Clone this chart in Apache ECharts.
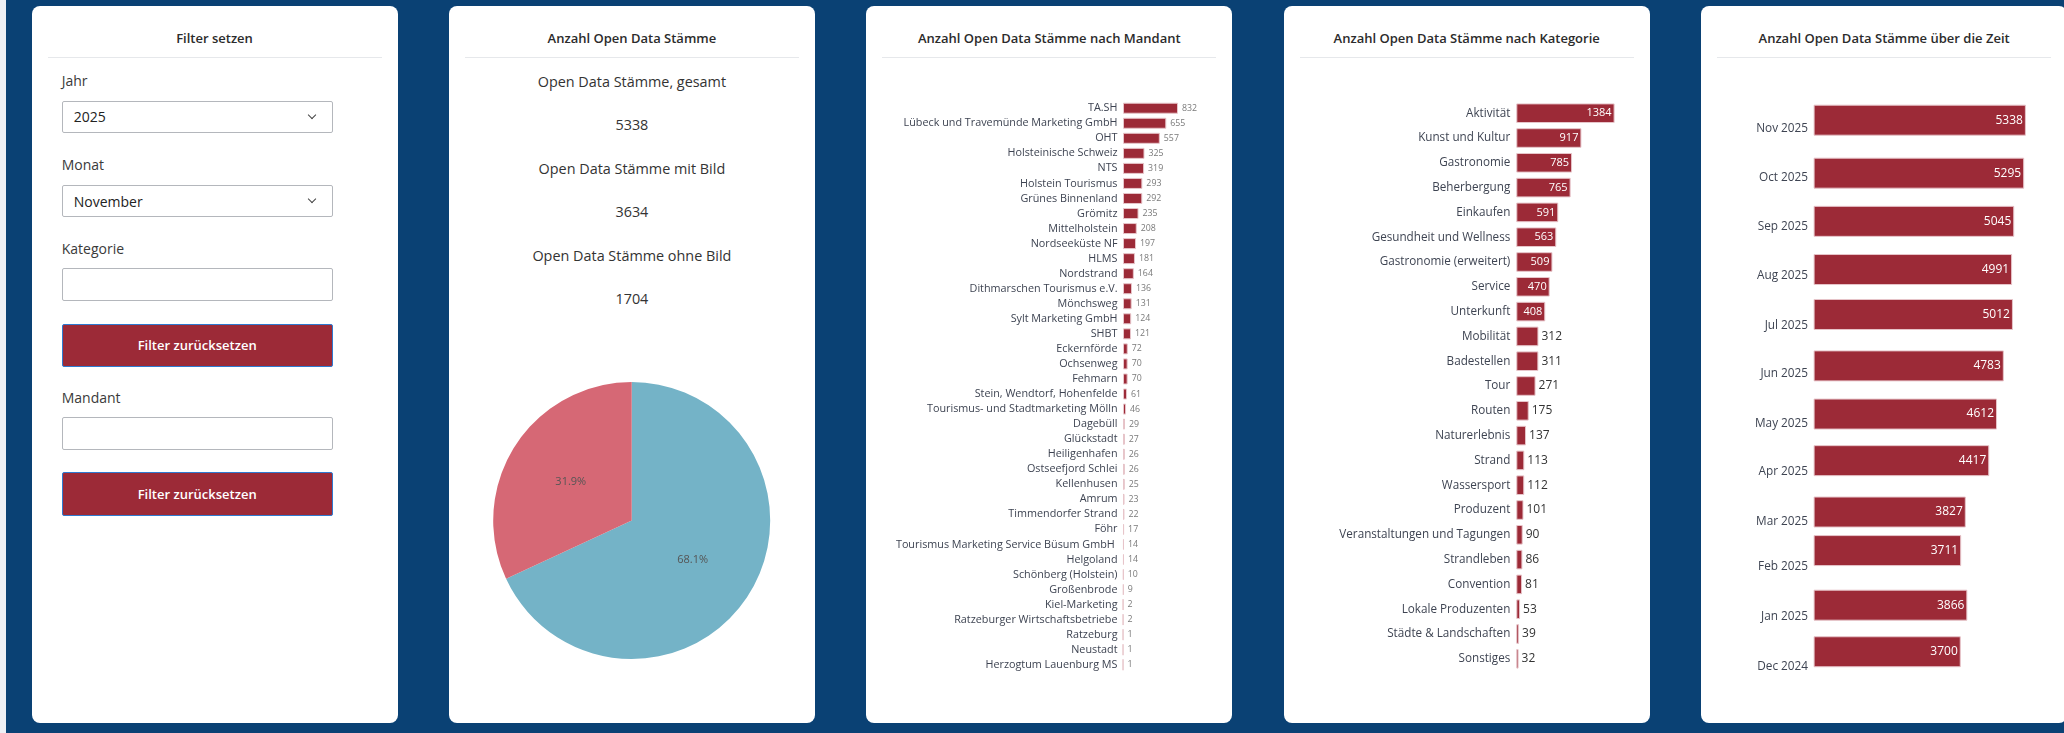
<!DOCTYPE html>
<html lang="de">
<head>
<meta charset="utf-8">
<title>Open Data Stämme</title>
<script src="https://cdn.jsdelivr.net/npm/echarts/dist/echarts.min.js"></script>
<style>
  html, body { margin: 0; padding: 0; width: 2064px; height: 733px; overflow: hidden; background: #eef0f5; }
  body { font-family: "Open Sans", "Noto Sans", sans-serif; color: #333; }
  #bg { position: absolute; left: 6px; top: 0; width: 2058px; height: 733px; background: #0a4174; }
  .panel { position: absolute; top: 5.5px; width: 366px; height: 717px; background: #fff; border-radius: 8px; overflow: hidden; }
  .titel { position: absolute; left: 0; width: 366px; top: 23.5px; line-height: 18px; text-align: center; font-size: 13px; font-weight: 600; color: #2b2b2b; }
  .trenner { position: absolute; left: 16px; right: 16px; top: 51px; height: 1px; background: #e6e8eb; }
  .lbl { position: absolute; left: 30.2px; line-height: 20px; font-size: 14px; color: #3a3a3a; }
  .feld { position: absolute; left: 30.2px; width: 271px; box-sizing: border-box; border: 1px solid #b4b7bc; border-radius: 2px; background: #fff;
          font-size: 14px; color: #222; padding-left: 11px; display: flex; align-items: center; }
  .feld .pfeil { position: absolute; right: 17px; top: 50%; width: 5px; height: 5px; margin-top: -5px; border-right: 1.3px solid #444; border-bottom: 1.3px solid #444; transform: rotate(45deg); }
  .knopf { position: absolute; left: 30.2px; width: 271px; box-sizing: border-box; border: 1px solid #2f7ad0; border-radius: 2px; background: #9c2a37;
           color: #fff; font-size: 13px; font-weight: 600; display: flex; align-items: center; justify-content: center; }
  .kpi { position: absolute; left: 0; width: 366px; text-align: center; line-height: 20px; font-size: 14.4px; color: #333; }
  .chart { position: absolute; left: 0; top: 0; width: 366px; height: 717px; }
</style>
</head>
<body>
<div id="bg"></div>

<div class="panel" id="p0">
  <div class="titel">Filter setzen</div>
  <div class="trenner"></div>
  <div class="lbl" style="top:65.4px">Jahr</div>
  <div class="feld" style="top:95px;height:32.3px">2025<span class="pfeil"></span></div>
  <div class="lbl" style="top:149.5px">Monat</div>
  <div class="feld" style="top:179.2px;height:32.7px">November<span class="pfeil"></span></div>
  <div class="lbl" style="top:233.7px">Kategorie</div>
  <div class="feld" style="top:262.4px;height:33.6px"></div>
  <div class="knopf" style="top:318px;height:43px">Filter zurücksetzen</div>
  <div class="lbl" style="top:382.8px">Mandant</div>
  <div class="feld" style="top:411.5px;height:33.2px"></div>
  <div class="knopf" style="top:466.7px;height:43.5px">Filter zurücksetzen</div>
</div>

<div class="panel" id="p1">
  <div class="titel">Anzahl Open Data Stämme</div>
  <div class="trenner"></div>
  <div id="kpis"></div>
  <div class="chart" id="pie"></div>
</div>

<div class="panel" id="p2">
  <div class="titel">Anzahl Open Data Stämme nach Mandant</div>
  <div class="trenner"></div>
  <div class="chart" id="mandant"></div>
</div>

<div class="panel" id="p3">
  <div class="titel">Anzahl Open Data Stämme nach Kategorie</div>
  <div class="trenner"></div>
  <div class="chart" id="kategorie"></div>
</div>

<div class="panel" id="p4">
  <div class="titel">Anzahl Open Data Stämme über die Zeit</div>
  <div class="trenner"></div>
  <div class="chart" id="zeit"></div>
</div>

<script>
// ---- Daten ----
var kpiLabels = ['Open Data Stämme, gesamt', 'Open Data Stämme mit Bild', 'Open Data Stämme ohne Bild'];
var kpiValues = [5338, 3634, 1704];

var mandantNames = ['TA.SH', 'Lübeck und Travemünde Marketing GmbH', 'OHT', 'Holsteinische Schweiz', 'NTS',
    'Holstein Tourismus', 'Grünes Binnenland', 'Grömitz', 'Mittelholstein', 'Nordseeküste NF', 'HLMS',
    'Nordstrand', 'Dithmarschen Tourismus e.V.', 'Mönchsweg', 'Sylt Marketing GmbH', 'SHBT', 'Eckernförde',
    'Ochsenweg', 'Fehmarn', 'Stein, Wendtorf, Hohenfelde', 'Tourismus- und Stadtmarketing Mölln', 'Dagebüll',
    'Glückstadt', 'Heiligenhafen', 'Ostseefjord Schlei', 'Kellenhusen', 'Amrum', 'Timmendorfer Strand', 'Föhr',
    'Tourismus Marketing Service Büsum GmbH ', 'Helgoland', 'Schönberg (Holstein)', 'Großenbrode',
    'Kiel-Marketing', 'Ratzeburger Wirtschaftsbetriebe', 'Ratzeburg', 'Neustadt', 'Herzogtum Lauenburg MS'];
var mandantValues = [832, 655, 557, 325, 319, 293, 292, 235, 208, 197, 181, 164, 136, 131, 124, 121, 72,
    70, 70, 61, 46, 29, 27, 26, 26, 25, 23, 22, 17, 14, 14, 10, 9, 2, 2, 1, 1, 1];

var kategorieNames = ['Aktivität', 'Kunst und Kultur', 'Gastronomie', 'Beherbergung', 'Einkaufen',
    'Gesundheit und Wellness', 'Gastronomie (erweitert)', 'Service', 'Unterkunft', 'Mobilität', 'Badestellen',
    'Tour', 'Routen', 'Naturerlebnis', 'Strand', 'Wassersport', 'Produzent', 'Veranstaltungen und Tagungen',
    'Strandleben', 'Convention', 'Lokale Produzenten', 'Städte & Landschaften', 'Sonstiges'];
var kategorieValues = [1384, 917, 785, 765, 591, 563, 509, 470, 408, 312, 311, 271, 175, 137, 113, 112, 101,
    90, 86, 81, 53, 39, 32];

// Stichtage der monatlichen Zählung
var zeitDates = ['2025-11-06', '2025-10-04', '2025-09-04', '2025-08-05', '2025-07-08', '2025-06-06',
    '2025-05-07', '2025-04-08', '2025-03-07', '2025-02-11', '2025-01-08', '2024-12-10'];
var zeitValues = [5338, 5295, 5045, 4991, 5012, 4783, 4612, 4417, 3827, 3711, 3866, 3700];

var monate = ['Jan', 'Feb', 'Mar', 'Apr', 'May', 'Jun', 'Jul', 'Aug', 'Sep', 'Oct', 'Nov', 'Dec'];

// ---- Farben ----
var barRot = '#9c2a37';
var barRand = '#e7c5ca';
var textFarbe = '#3e4452';

// KPI Texte
var kpiBox = document.getElementById('kpis');
for (var i = 0; i < kpiLabels.length; i++) {
    var t = document.createElement('div');
    t.className = 'kpi';
    t.style.top = (66.2 + i * 86.9) + 'px';
    t.textContent = kpiLabels[i];
    kpiBox.appendChild(t);
    var z = document.createElement('div');
    z.className = 'kpi';
    z.style.top = (109.6 + i * 86.9) + 'px';
    z.textContent = kpiValues[i];
    kpiBox.appendChild(z);
}

// Kreisdiagramm mit/ohne Bild
var pieChart = echarts.init(document.getElementById('pie'), null, { renderer: 'canvas' });
pieChart.setOption({
    animation: false,
    series: [{
        type: 'pie',
        center: [182.7, 514.5],
        radius: 138.5,
        startAngle: 90,
        percentPrecision: 1,
        label: { position: 'inside', formatter: '{d}%', color: '#555', fontSize: 11, fontFamily: 'Open Sans' },
        labelLine: { show: false },
        itemStyle: { borderWidth: 0 },
        data: [
            { name: 'mit Bild', value: kpiValues[1], itemStyle: { color: '#74b3c7' } },
            { name: 'ohne Bild', value: kpiValues[2], itemStyle: { color: '#d66875' } }
        ]
    }]
});

// Mandanten
var mandantChart = echarts.init(document.getElementById('mandant'));
mandantChart.setOption({
    animation: false,
    grid: { left: 257, top: 94.7, width: 55, height: 571.6 },
    xAxis: { type: 'value', min: 0, max: 'dataMax', show: false },
    yAxis: {
        type: 'category', inverse: true, data: mandantNames,
        axisLine: { show: false }, axisTick: { show: false },
        axisLabel: { interval: 0, margin: 5.5, fontSize: 10.8, color: textFarbe, fontFamily: 'Open Sans' }
    },
    series: [{
        type: 'bar', data: mandantValues, barWidth: 11,
        itemStyle: { color: barRot, borderColor: barRand, borderWidth: 1 },
        label: { show: true, position: 'right', distance: 4, fontSize: 8.8, color: '#7a7a7a', fontFamily: 'Open Sans' }
    }]
});

// Kategorien - große Balken mit Wert innen, kleine außen
var kategorieChart = echarts.init(document.getElementById('kategorie'));
kategorieChart.setOption({
    animation: false,
    grid: { left: 232.3, top: 94.8, width: 98.3, height: 570.4 },
    xAxis: { type: 'value', min: 0, max: 'dataMax', show: false },
    yAxis: {
        type: 'category', inverse: true, data: kategorieNames,
        axisLine: { show: false }, axisTick: { show: false },
        axisLabel: { interval: 0, margin: 6, fontSize: 11.7, color: textFarbe, fontFamily: 'Open Sans' }
    },
    series: [{
        type: 'bar', barWidth: 19.6,
        itemStyle: { color: barRot, borderColor: barRand, borderWidth: 1 },
        data: kategorieValues.map(function (v) {
            return {
                value: v,
                label: v >= 400
                    ? { position: 'insideRight', distance: 3, color: '#fff', fontSize: 11 }
                    : { position: 'right', distance: 3, color: '#333', fontSize: 12 }
            };
        }),
        label: { show: true, fontFamily: 'Open Sans', textBorderWidth: 0 }
    }]
});

// Zeitverlauf
// echarts 6 erweitert die Zeitachse um eine halbe Balkenbreite je Seite -> vorher abziehen
var zeitHoehe = 572, zeitBalken = 31;
var achseVon = new Date('2024-11-27T02:00:00').getTime();
var achseBis = new Date('2025-11-18T06:00:00').getTime();
var rand = (zeitBalken / 2) / zeitHoehe * (achseBis - achseVon);

var zeitChart = echarts.init(document.getElementById('zeit'));
zeitChart.setOption({
    animation: false,
    grid: { left: 112.6, top: 94.5, width: 212.3, height: zeitHoehe },
    xAxis: { type: 'value', min: 0, max: 'dataMax', show: false },
    yAxis: {
        type: 'time',
        min: achseVon + rand,
        max: achseBis - rand,
        splitNumber: 12,
        axisLine: { show: false }, axisTick: { show: false }, splitLine: { show: false },
        axisLabel: {
            showMinLabel: false, showMaxLabel: false,
            margin: 5.5, fontSize: 11.8, color: textFarbe, fontFamily: 'Open Sans',
            formatter: function (v) {
                var d = new Date(v);
                if (d.getDate() !== 1) return '';
                return monate[d.getMonth()] + ' ' + d.getFullYear();
            }
        }
    },
    series: [{
        type: 'bar', barWidth: zeitBalken,
        data: zeitDates.map(function (d, i) { return [zeitValues[i], d]; }),
        encode: { x: 0, y: 1 },
        itemStyle: { color: barRot, borderColor: barRand, borderWidth: 1 },
        label: { show: true, position: 'insideRight', distance: 3, color: '#fff', fontSize: 12, fontFamily: 'Open Sans', textBorderWidth: 0 }
    }]
});

// Panels positionieren
for (var p = 0; p < 5; p++) {
    document.getElementById('p' + p).style.left = (31.5 + p * 417.4) + 'px';
}
</script>
</body>
</html>
